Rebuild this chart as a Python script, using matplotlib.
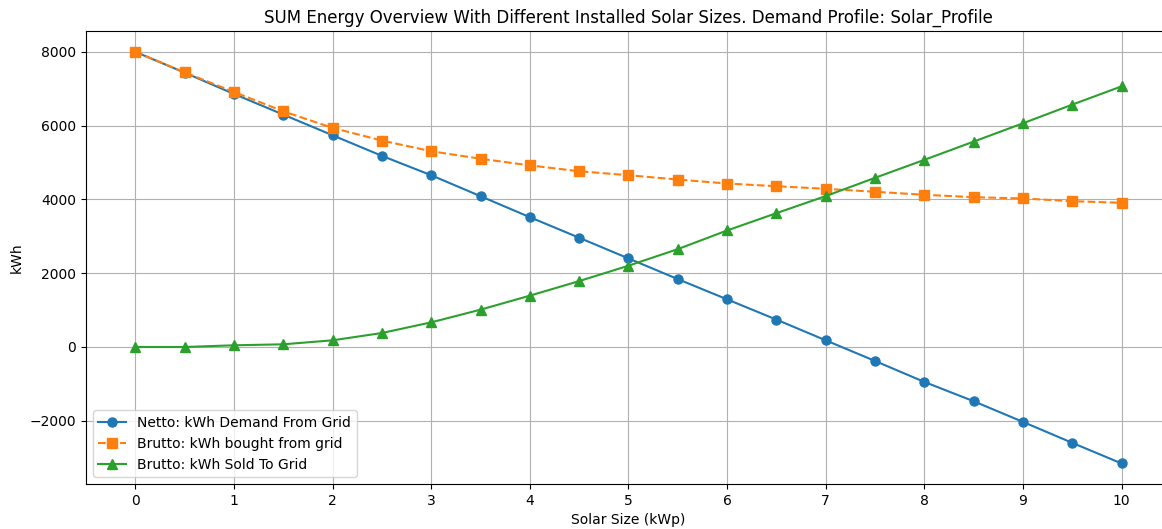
import numpy as np
import matplotlib.pyplot as plt

# installed solar sizes (kWp)
solar_sizes = [0, 0.5, 1, 1.5, 2, 2.5, 3, 3.5, 4, 4.5, 5, 5.5, 6, 6.5, 7, 7.5, 8, 8.5, 9, 9.5, 10]

# yearly sums in kWh
netto_demand = [8000, 7435, 6858, 6298, 5738, 5180, 4655, 4087, 3518, 2961, 2400,
                1840, 1291, 742, 181, -379, -947, -1470, -2030, -2598, -3156]
brutto_bought = [8000, 7442, 6912, 6387, 5938, 5594, 5305, 5102, 4921, 4763, 4655,
                 4538, 4430, 4357, 4287, 4206, 4125, 4060, 4025, 3951, 3908]
brutto_sold = [0, 0, 46, 73, 181, 379, 668, 1012, 1391, 1786, 2203,
               2652, 3158, 3627, 4090, 4585, 5072, 5567, 6063, 6569, 7064]

fig, ax = plt.subplots(figsize=(11.62, 5.29), dpi=100)
# the axes run a little past the right edge of the canvas
fig.subplots_adjust(left=0.074, right=1.0077, top=0.941, bottom=0.085)

ax.plot(solar_sizes, netto_demand, '-o', color='tab:blue', lw=1.5, ms=6.5,
        label='Netto: kWh Demand From Grid')
ax.plot(solar_sizes, brutto_bought, '--s', color='tab:orange', lw=1.5, ms=6.5,
        label='Brutto: kWh bought from grid')
ax.plot(solar_sizes, brutto_sold, '-^', color='tab:green', lw=1.5, ms=6.5,
        label='Brutto: kWh Sold To Grid')

ax.set_xticks(np.arange(0, 11, 1))
ax.grid(True)
ax.set_title('SUM Energy Overview With Different Installed Solar Sizes. Demand Profile: Solar_Profile')
ax.set_xlabel('Solar Size (kWp)')
ax.set_ylabel('kWh')
ax.legend(loc='lower left')

plt.savefig('out.png')
